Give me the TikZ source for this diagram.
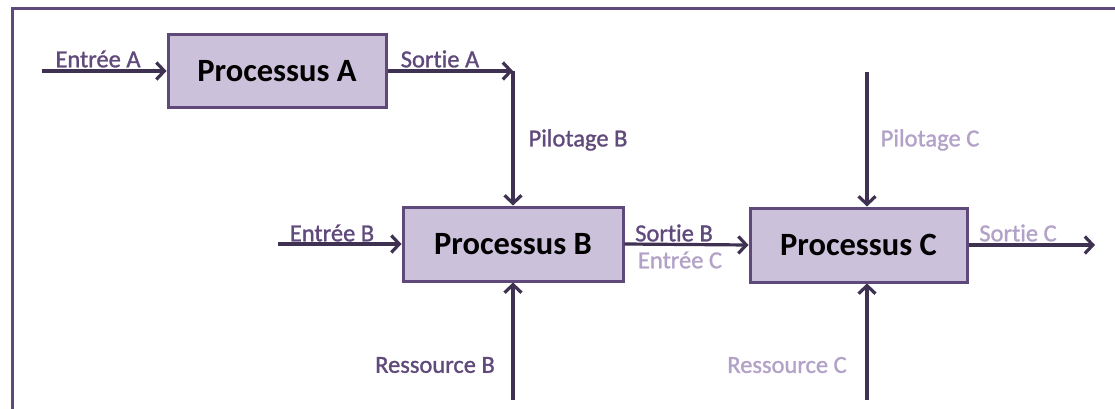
\documentclass[tikz,border=0pt]{standalone}
\usepackage{fontspec}
\setmainfont[Ligatures=NoCommon]{Carlito}
\newfontfamily\lblfont[Ligatures=NoCommon,FakeBold=1.2]{Carlito}
\usetikzlibrary{arrows.meta}
\definecolor{linec}{HTML}{3F3151}
\definecolor{boxedge}{HTML}{5F497A}
\definecolor{boxfill}{HTML}{CCC1DA}
\definecolor{darklbl}{HTML}{604A7B}
\definecolor{lightlbl}{HTML}{B3A2C7}
\tikzset{
  proc/.style={draw=boxedge, fill=boxfill, line width=3pt, minimum width=218pt, minimum height=73pt, inner sep=0pt, font=\fontsize{32.5}{36}\selectfont\bfseries, text=black},
  conn/.style={draw=linec, line width=3.2pt, -{Straight Barb[length=8pt,width=17pt,line width=3.2pt]}},
  lbl/.style={inner sep=0pt, font=\lblfont\fontsize{24.5}{27}\selectfont, text=darklbl},
  lbllight/.style={lbl, text=lightlbl}
}
\begin{document}
\begin{tikzpicture}[x=1pt,y=-1pt]
\useasboundingbox (0,0) rectangle (1115,409);
\draw[boxedge, line width=3pt] (12,409) -- (12,9) -- (1115,9);

\node[proc] (pa) at (277,71) {Processus A};
\node[proc, minimum width=220pt, minimum height=74pt] (pb) at (513,244) {Processus B};
\node[proc, minimum width=217pt, minimum height=74pt] (pc) at (858.5,245) {Processus C};

\coordinate (inA) at (42,71);
\coordinate (corner) at (513,71);
\coordinate (inB) at (278,244);
\coordinate (outC) at (1095,245);
\coordinate (pilC) at (867,72);
\coordinate (resB) at (513,400);
\coordinate (resC) at (867,400);

\draw[conn] (inA) -- (pa.west);
\draw[conn] (pa.east |- corner) -- (corner);
\draw[conn] (corner) -- (pb.north);
\draw[conn] (inB) -- (pb.west);
\draw[conn] (pb.east) -- (pc.west);
\draw[conn] (pc.east) -- (outC);
\draw[conn] (pilC) -- (pilC |- pc.north);
\draw[conn] (resB) -- (pb.south);
\draw[conn] (resC) -- (resC |- pc.south);

\node[lbl] (lEA) at (98,59) {Entrée A};
\node[lbl] (lSA) at (440,59) {Sortie A};
\node[lbl] (lPB) at (578,140) {Pilotage B};
\node[lbl] (lEB) at (332,233) {Entrée B};
\node[lbl] (lSB) at (674,233) {Sortie B};
\node[lbllight] (lEC) at (680,260) {Entrée C};
\node[lbllight] (lPC) at (930,140) {Pilotage C};
\node[lbllight] (lSC) at (1018,233) {Sortie C};
\node[lbl] (lRB) at (435,365) {Ressource B};
\node[lbllight] (lRC) at (787,365) {Ressource C};
\end{tikzpicture}
\end{document}
